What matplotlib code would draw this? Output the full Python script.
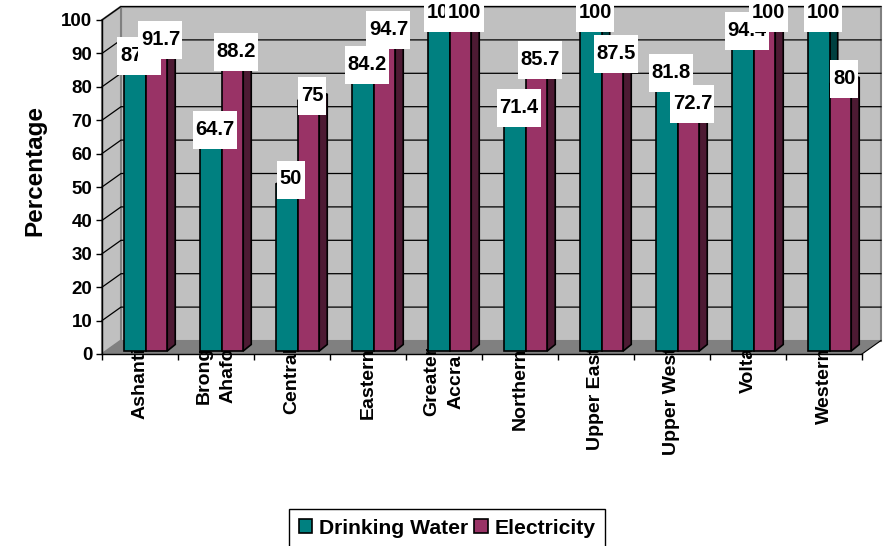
import matplotlib
matplotlib.use("Agg")
import matplotlib.pyplot as plt
from matplotlib.patches import Polygon, Rectangle, Patch
import numpy as np

plt.rcParams['font.family'] = ['Liberation Sans', 'DejaVu Sans']
plt.rcParams['font.weight'] = 'bold'

regions = ["Ashanti", "Brong\nAhafo", "Central", "Eastern", "Greater\nAccra",
           "Northern", "Upper East", "Upper West", "Volta", "Western"]
water = [87, 64.7, 50, 84.2, 100, 71.4, 100, 81.8, 94.4, 100]
electricity = [91.7, 88.2, 75, 94.7, 100, 85.7, 87.5, 72.7, 100, 80]
y_ticks = list(range(0, 101, 10))

W, H = 886, 546
# front plane of the fake 3d box, in pixels
left, right, top, bottom = 102, 862, 20, 354
ux = 1 / 76.0     # data units per pixel
uy = 100.0 / 334

fig = plt.figure(figsize=(W / 100, H / 100), dpi=100)
ax = fig.add_axes([left / W, 1 - bottom / H, (right - left) / W, (bottom - top) / H])
ax.set_xlim(0, 10)
ax.set_ylim(0, 100)
ax.patch.set_visible(False)
ax.set_axisbelow(True)

# walls and floor
dx, dy = 19 * ux, 13.5 * uy
wall = dict(facecolor="#C0C0C0", edgecolor="#808080", linewidth=1.5, zorder=0.2, clip_on=False)
ax.add_patch(Polygon([(dx, dy), (10 + dx, dy), (10 + dx, 100 + dy), (dx, 100 + dy)], **wall))
ax.add_patch(Polygon([(0, 0), (dx, dy), (dx, 100 + dy), (0, 100)], **wall))
ax.add_patch(Polygon([(0, 0), (10, 0), (10 + dx, dy), (dx, dy)], facecolor="#808080",
                     edgecolor="none", zorder=0.25, clip_on=False))
ax.plot([10, 10 + dx], [0, dy], color="black", lw=0.8, zorder=0.3, clip_on=False)
for v in y_ticks[1:]:
    ax.plot([0, dx, 10 + dx], [v, v + dy, v + dy], color="black", lw=0.9, zorder=0.3, clip_on=False)

# bars
x = np.arange(len(regions))
base = 3 * uy
bar_w = 21.5 * ux
bar_dx, bar_dy = 8 * ux, 6.5 * uy
series = [(water, x + 0.434, "#008080", "#004040", 3),
          (electricity, x + 0.717, "#993366", "#4D1A33", 4)]

for vals, pos, col, dark, z in series:
    ax.bar(pos, vals, bar_w, bottom=base, color=col, edgecolor="black", linewidth=1.2,
           zorder=z + 0.2, clip_on=False)
    for p, v in zip(pos, vals):
        x0, x1 = p - bar_w / 2, p + bar_w / 2
        t = v + base
        ax.add_patch(Polygon([(x1, base), (x1 + bar_dx, base + bar_dy), (x1 + bar_dx, t + bar_dy), (x1, t)],
                             facecolor=dark, edgecolor="black", linewidth=1.2, zorder=z, clip_on=False))
        ax.add_patch(Polygon([(x0, t), (x1, t), (x1 + bar_dx, t + bar_dy), (x0 + bar_dx, t + bar_dy)],
                             facecolor=col, edgecolor="black", linewidth=1.2, zorder=z, clip_on=False))

# data labels, second series sits on top of the first
box_h = 38 * uy
for i, (vals, pos, col, dark, z) in enumerate(series):
    for p, v in zip(pos, vals):
        label = f"{v:g}"
        cx = p + 4 * ux
        cy = v + base + 4.5 * uy
        if label == "87" or "." in label:
            bw = 44 * ux
        elif len(label) == 3:
            bw = 38.5 * ux
        else:
            bw = 28 * ux
        ax.add_patch(Rectangle((cx - bw / 2, cy - box_h / 2), bw, box_h, facecolor="white",
                               edgecolor="none", zorder=10 + i, clip_on=False))
        if label == "87":
            ax.text(cx - bw / 2 + 3 * ux, cy + 0.5 * uy, label, ha="left", va="center", fontsize=14.5,
                    color="black", zorder=10.5 + i, clip_on=False)
        else:
            ax.text(cx, cy + 0.5 * uy, label, ha="center", va="center", fontsize=14.5,
                    color="black", zorder=10.5 + i, clip_on=False)

# axes
for s in ["top", "right"]:
    ax.spines[s].set_visible(False)
for s in ["left", "bottom"]:
    ax.spines[s].set_zorder(0.6)
    ax.spines[s].set_linewidth(1.0)
ax.set_yticks(y_ticks)
ax.tick_params(axis="y", length=4, width=1, pad=3, labelsize=13.5)
ax.set_xticks(np.arange(11))
ax.set_xticklabels([])
ax.tick_params(axis="x", which="major", length=4, width=1)
ax.set_xticks(x + 0.5, minor=True)
ax.set_xticklabels(regions, minor=True, rotation=90, va="top", ha="center", ma="center",
                   fontsize=14, linespacing=1.55)
ax.tick_params(axis="x", which="minor", length=0, pad=-5)
ax.set_ylabel("Percentage", fontsize=17.5, fontweight="bold")
ax.yaxis.set_label_coords((46 - left) / (right - left), (bottom - 170) / (bottom - top))

handles = [Patch(facecolor="#008080", edgecolor="black", linewidth=1.2, label="Drinking Water"),
           Patch(facecolor="#993366", edgecolor="black", linewidth=1.2, label="Electricity")]
leg = fig.legend(handles=handles, loc="upper left", bbox_to_anchor=(289 / W, 1 - 509 / H), ncol=2,
                 fontsize=15.2, frameon=True, fancybox=False, edgecolor="black", framealpha=1,
                 borderaxespad=0, borderpad=0.45, handlelength=0.62, handleheight=0.62,
                 handletextpad=0.35, columnspacing=0.3)
leg.get_frame().set_linewidth(1.0)

fig.savefig("out.png", dpi=100)
